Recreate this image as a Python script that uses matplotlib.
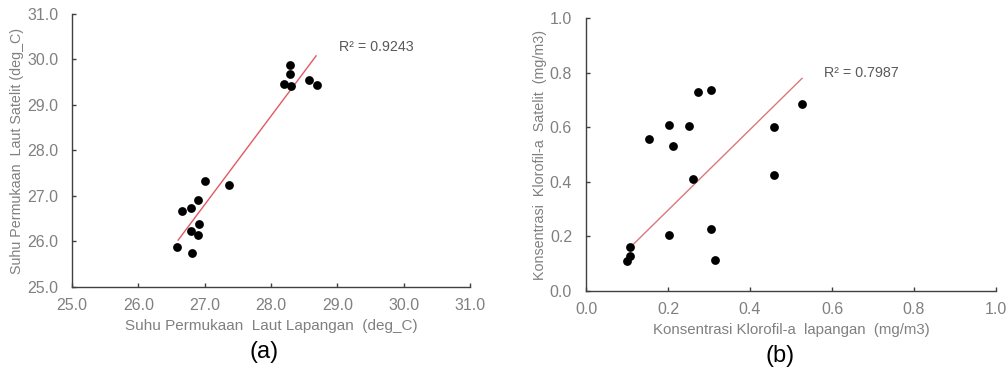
import matplotlib
matplotlib.use("Agg")
import matplotlib.pyplot as plt

# ---- Data (a): sea surface temperature ----
sst_field = [28.29, 28.29, 28.19, 28.30, 28.58, 28.69, 27.00, 27.36, 26.90,
             26.66, 26.80, 26.92, 26.80, 26.90, 26.59, 26.81]
sst_sat = [29.89, 29.68, 29.46, 29.42, 29.54, 29.44, 27.32, 27.25, 26.91,
           26.68, 26.74, 26.39, 26.23, 26.15, 25.89, 25.75]
sst_trend_x = [26.60, 28.68]
sst_trend_y = [26.03, 30.08]
sst_r2 = "R² = 0.9243"
sst_ticks = [25.0, 26.0, 27.0, 28.0, 29.0, 30.0, 31.0]

# ---- Data (b): chlorophyll-a ----
chl_field = [0.272, 0.305, 0.528, 0.202, 0.252, 0.153, 0.211, 0.458, 0.458,
             0.260, 0.305, 0.202, 0.108, 0.108, 0.099, 0.315]
chl_sat = [0.730, 0.737, 0.686, 0.607, 0.603, 0.556, 0.532, 0.600, 0.425,
           0.410, 0.227, 0.204, 0.161, 0.129, 0.109, 0.114]
chl_trend_x = [0.108, 0.527]
chl_trend_y = [0.160, 0.779]
chl_r2 = "R² = 0.7987"
chl_ticks = [0.0, 0.2, 0.4, 0.6, 0.8, 1.0]

plt.rcParams['font.family'] = ['Liberation Sans', 'DejaVu Sans']
gray = '#808080'
axcol = '#404040'

fig = plt.figure(figsize=(10.08, 3.73), dpi=100)
W, H = 1008, 373


def style(ax):
    for s in ['top', 'right']:
        ax.spines[s].set_visible(False)
    for s in ['left', 'bottom']:
        ax.spines[s].set_color(axcol)
        ax.spines[s].set_linewidth(1.0)
    ax.tick_params(direction='in', length=3, width=1, color=axcol,
                   labelsize=11.5, labelcolor=gray)
    ax.tick_params(axis='y', pad=10)
    ax.tick_params(axis='x', pad=8)


ax1 = fig.add_axes([72 / W, (H - 287) / H, 398 / W, 273 / H])
ax1.scatter(sst_field, sst_sat, s=40, color='black', zorder=3, linewidths=0)
ax1.plot(sst_trend_x, sst_trend_y, color='#e05a63', lw=1.0, zorder=2)
ax1.set_xlim(25, 31)
ax1.set_ylim(25, 31)
ax1.set_xticks(sst_ticks)
ax1.set_yticks(sst_ticks)
ax1.set_xticklabels([f"{v:.1f}" for v in sst_ticks])
ax1.set_yticklabels([f"{v:.1f}" for v in sst_ticks])
style(ax1)
ax1.set_xlabel("Suhu Permukaan  Laut Lapangan  (deg_C)", color=gray,
               fontsize=11, labelpad=4)
ax1.set_ylabel("Suhu Permukaan  Laut Satelit (deg_C)", color=gray,
               fontsize=10.3, labelpad=2)
ax1.text(29.02, 30.27, sst_r2, color='#595959', fontsize=10.3, va='center',
         ha='left')

ax2 = fig.add_axes([586 / W, (H - 291) / H, 410 / W, 273 / H])
ax2.scatter(chl_field, chl_sat, s=40, color='black', zorder=3, linewidths=0)
ax2.plot(chl_trend_x, chl_trend_y, color='#d9787c', lw=1.0, zorder=2)
ax2.set_xlim(0, 1)
ax2.set_ylim(0, 1)
ax2.set_xticks(chl_ticks)
ax2.set_yticks(chl_ticks)
ax2.set_xticklabels([f"{v:.1f}" for v in chl_ticks])
ax2.set_yticklabels([f"{v:.1f}" for v in chl_ticks])
style(ax2)
ax2.set_xlabel("Konsentrasi Klorofil-a  lapangan  (mg/m3)", color=gray,
               fontsize=10.8, labelpad=4)
ax2.set_ylabel("Konsentrasi  Klorofil-a  Satelit  (mg/m3)", color=gray,
               fontsize=10.3, labelpad=2)
ax2.text(0.58, 0.80, chl_r2, color='#595959', fontsize=10.3, va='center',
         ha='left')

fig.text(264 / W, 1 - 352 / H, "(a)", fontsize=17, ha='center', va='center',
         color='black')
fig.text(780 / W, 1 - 356 / H, "(b)", fontsize=17, ha='center', va='center',
         color='black')

fig.savefig("out.png", dpi=100)
